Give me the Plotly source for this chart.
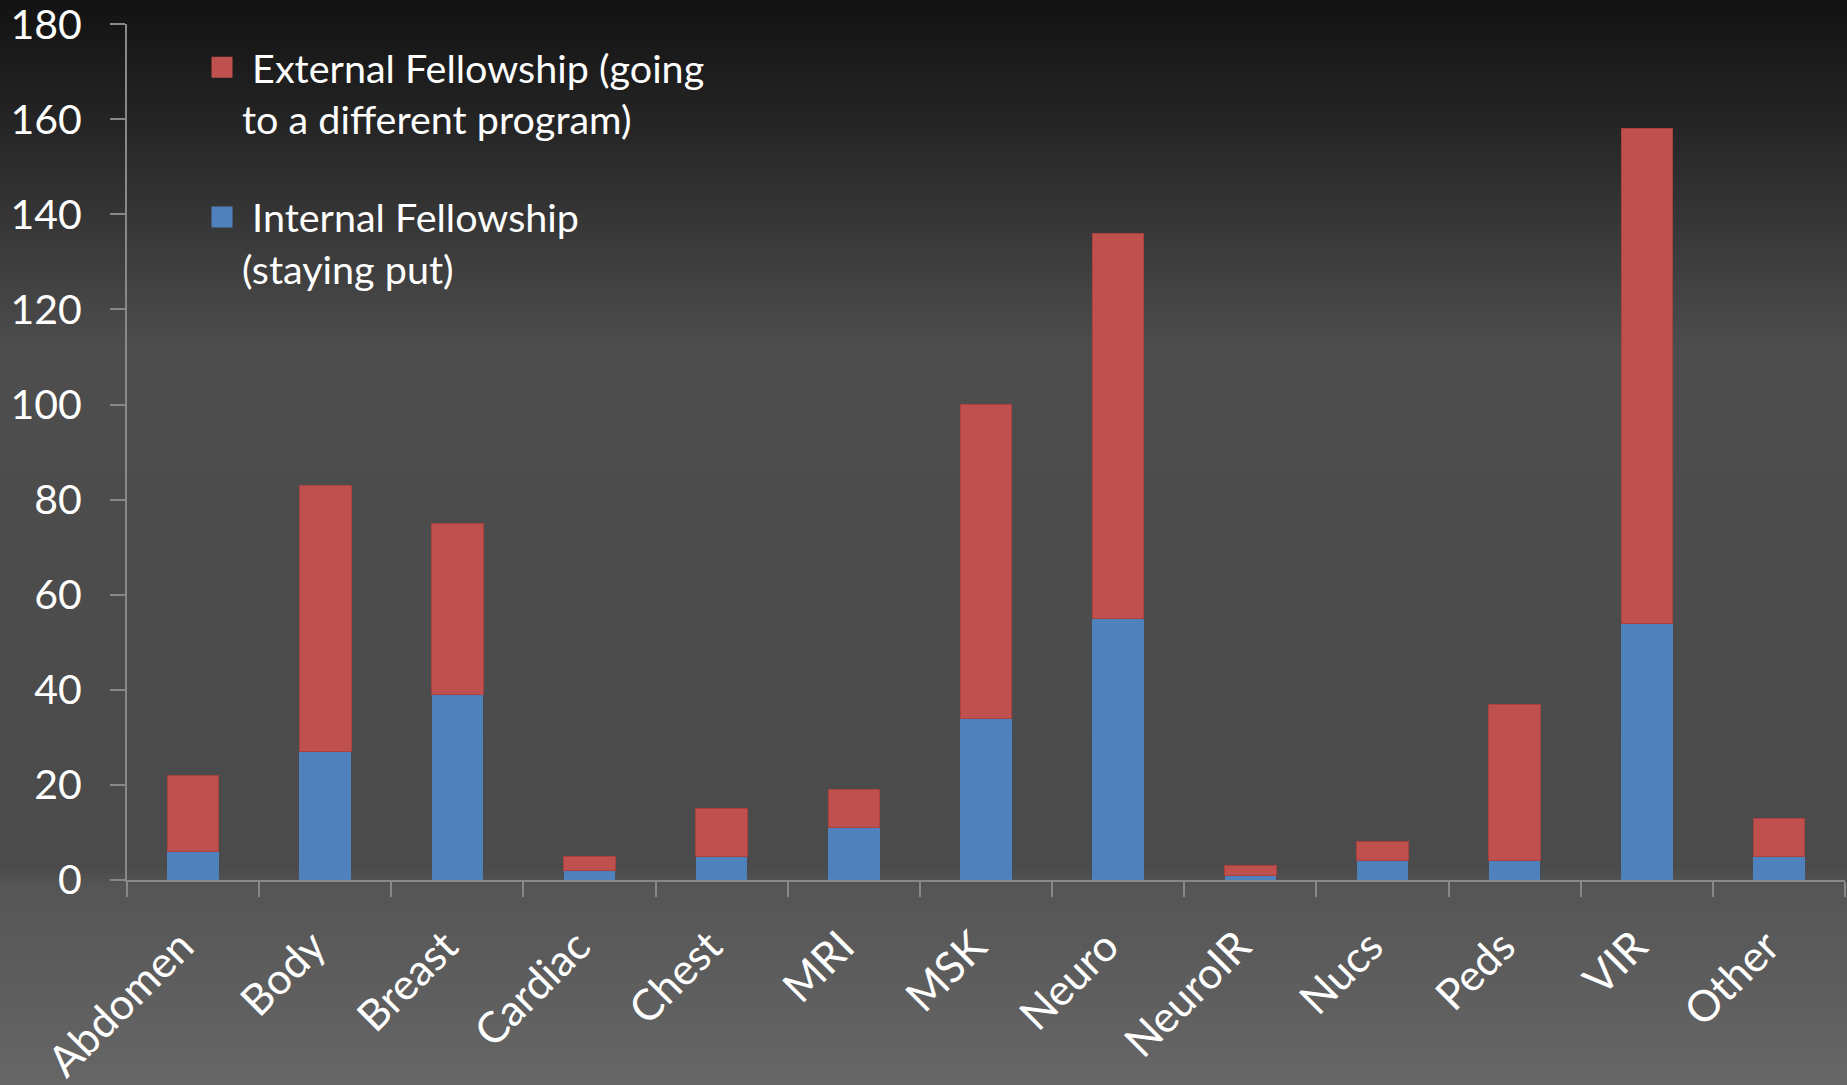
import plotly.graph_objects as go

# Fellowship choices by subspecialty
categories = ["Abdomen", "Body", "Breast", "Cardiac", "Chest", "MRI", "MSK",
              "Neuro", "NeuroIR", "Nucs", "Peds", "VIR", "Other"]
internal = [6, 27, 39, 2, 5, 11, 34, 55, 1, 4, 4, 54, 5]
external = [16, 56, 36, 3, 10, 8, 66, 81, 2, 4, 33, 104, 8]

y_ticks = [0, 20, 40, 60, 80, 100, 120, 140, 160, 180]

name_external = "\u00a0External Fellowship (going<br>to a different program)"
name_internal = "\u00a0Internal Fellowship<br>(staying put)"

RED = "#C0504D"
BLUE = "#4F81BD"
AXIS = "#888888"
FONT = "Lato"

W, H = 1847, 1085
ML, MR, MT, MB = 127, 2, 24, 205
plot_h = H - MT - MB
plot_w = W - ML - MR

fig = go.Figure()

fig.add_trace(go.Bar(x=categories, y=internal, marker=dict(color=BLUE, line=dict(width=0)),
                     showlegend=False, name="Internal"))
fig.add_trace(go.Bar(x=categories, y=external, marker=dict(color=RED, line=dict(width=1, color="#A8423F")),
                     showlegend=False, name="External"))

# legend entries with larger square swatches
fig.add_trace(go.Scatter(x=[None], y=[None], mode="markers", name=name_external, legendgroup="ext",
                         marker=dict(symbol="square", size=16, color=RED, line=dict(width=5, color=RED))))
fig.add_trace(go.Scatter(x=[None], y=[None], mode="markers", name=name_internal, legendgroup="int",
                         marker=dict(symbol="square", size=16, color=BLUE, line=dict(width=5, color=BLUE))))

# vertical background gradient built from thin bands
stops = [(0, 18), (120, 36), (350, 77), (600, 76), (870, 75), (885, 85), (1085, 102)]


def shade(p):
    for (p0, c0), (p1, c1) in zip(stops[:-1], stops[1:]):
        if p0 <= p <= p1:
            return c0 + (c1 - c0) * (p - p0) / (p1 - p0)
    return stops[-1][1]


shapes = []
step = 5
for top in range(0, H, step):
    bot = min(top + step, H)
    g = int(round(shade((top + bot) / 2)))
    shapes.append(dict(
        type="rect", xref="paper", yref="paper", layer="below",
        x0=(0 - ML) / plot_w, x1=(W - ML) / plot_w,
        y0=(H - MB - bot) / plot_h, y1=(H - MB - top + 1) / plot_h,
        line=dict(width=0), fillcolor=f"rgb({g},{g},{g})",
    ))

fig.update_layout(
    width=W, height=H,
    margin=dict(l=ML, r=MR, t=MT, b=MB, autoexpand=False),
    barmode="stack",
    bargap=0.61,
    paper_bgcolor="#4b4b4b",
    plot_bgcolor="rgba(0,0,0,0)",
    shapes=shapes,
    font=dict(family=FONT, color="white"),
    showlegend=True,
    legend=dict(
        xref="paper", yref="paper",
        x=(202 - ML) / plot_w, y=(H - MB - 35) / plot_h, xanchor="left", yanchor="top",
        bgcolor="rgba(0,0,0,0)",
        font=dict(family=FONT, size=39.5, color="white"),
        traceorder="grouped",
        tracegroupgap=44,
        valign="top",
        itemsizing="trace",
    ),
    xaxis=dict(
        type="category",
        range=[-0.5, len(categories) - 0.5],
        automargin=False,
        showline=True, linecolor=AXIS, linewidth=2,
        ticks="outside", tickson="boundaries", ticklen=15, tickcolor=AXIS, tickwidth=2,
        tickangle=-45,
        tickfont=dict(family=FONT, size=43, color="white"),
        ticklabelstandoff=22,
        ticklabelshift=-12,
        showgrid=False, zeroline=False,
    ),
    yaxis=dict(
        range=[0, 180.05],
        tickvals=y_ticks,
        automargin=False,
        showline=True, linecolor=AXIS, linewidth=2,
        ticks="outside", ticklen=15, tickcolor=AXIS, tickwidth=2,
        tickfont=dict(family=FONT, size=41, color="white"),
        ticklabelstandoff=20,
        ticklabeloverflow="allow",
        showgrid=False, zeroline=False,
    ),
)

fig.write_html("out.html")
